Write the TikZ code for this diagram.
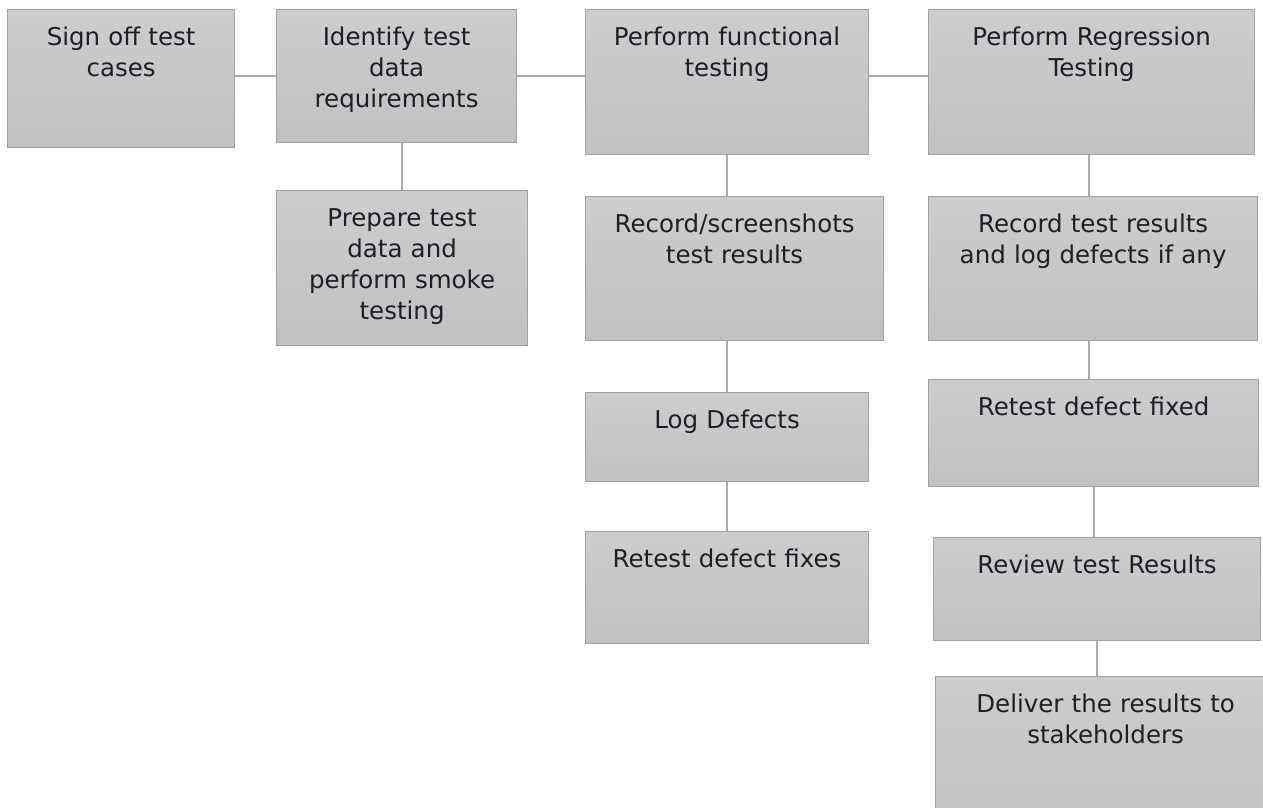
\documentclass[tikz,border=0pt]{standalone}
\usepackage{fontspec}
\setmainfont{DejaVu Sans}
\definecolor{boxline}{HTML}{A0A0A0}
\definecolor{boxtop}{HTML}{CDCDCD}
\definecolor{boxbottom}{HTML}{C1C1C1}
\definecolor{wire}{HTML}{ABABAB}
\definecolor{ink}{HTML}{1E1E28}
\begin{document}
\begin{tikzpicture}[x=1pt, y=-1pt,
		stepbox/.style={draw=boxline, line width=1.2pt, top color=boxtop, bottom color=boxbottom,
			text=ink, font=\fontsize{24.5}{31}\selectfont, align=center,
			inner xsep=4pt, inner ysep=0pt, text height=36pt, anchor=north west},
		wire/.style={draw=wire, line width=1.8pt} ]
	\clip (0,0) rectangle (1263,807);
	\fill[white] (0,0) rectangle (1263,807);
	% top row
	\node [stepbox, minimum width=227pt, text width=219pt, text depth=102pt] (sign) at (7,9) {Sign off test\\cases};
	\node [stepbox, minimum width=240pt, text width=232pt, text depth=97pt] (ident) at (276,9) {Identify test\\data\\requirements};
	\node [stepbox, minimum width=283pt, text width=275pt, text depth=109pt] (func) at (585,9) {Perform functional\\testing};
	\node [stepbox, minimum width=326pt, text width=318pt, text depth=109pt] (regr) at (928,9) {Perform Regression\\Testing};
	% second column
	\node [stepbox, minimum width=251pt, text width=243pt, text depth=119pt] (prep) at (276,190) {Prepare test\\data and\\perform smoke\\testing};
	% third column
	\node [stepbox, minimum width=298pt, text width=290pt, text depth=108pt] (rec) at (585,196) {Record/screenshots\\test results};
	\node [stepbox, minimum width=283pt, text width=275pt, text depth=53pt] (log) at (585,392) {Log Defects};
	\node [stepbox, minimum width=283pt, text width=275pt, text depth=76pt] (fix) at (585,531) {Retest defect fixes};
	% fourth column
	\node [stepbox, minimum width=329pt, text width=321pt, text depth=108pt] (rec2) at (928,196) {Record test results\\and log defects if any};
	\node [stepbox, minimum width=330pt, text width=322pt, text depth=71pt] (retest) at (928,379) {Retest defect fixed};
	\node [stepbox, minimum width=327pt, text width=319pt, text depth=67pt] (review) at (933,537) {Review test Results};
	\node [stepbox, minimum width=340pt, text width=332pt, text depth=124pt] (deliver) at (935,676) {Deliver the results to\\stakeholders};
	% connectors
	\draw [wire] (sign.east |- ident.east) -- (ident.west);
	\draw [wire] (ident.east) -- (func.west |- ident.east);
	\draw [wire] (func.east |- ident.east) -- (regr.west |- ident.east);
	\draw [wire] (prep.north) -- (prep.north |- ident.south);
	\draw [wire] (func.south) -- (func.south |- rec.north);
	\draw [wire] (log.north) -- (log.north |- rec.south);
	\draw [wire] (log.south) -- (fix.north -| log.south);
	\draw [wire] ([xshift=-3pt]regr.south) -- ([xshift=-3pt]regr.south |- rec2.north);
	\draw [wire] ([xshift=-3pt]regr.south |- rec2.south) -- ([xshift=-3pt]regr.south |- retest.north);
	\draw [wire] (retest.south) -- (retest.south |- review.north);
	\draw [wire] (review.south) -- (review.south |- deliver.north);
\end{tikzpicture}
\end{document}
